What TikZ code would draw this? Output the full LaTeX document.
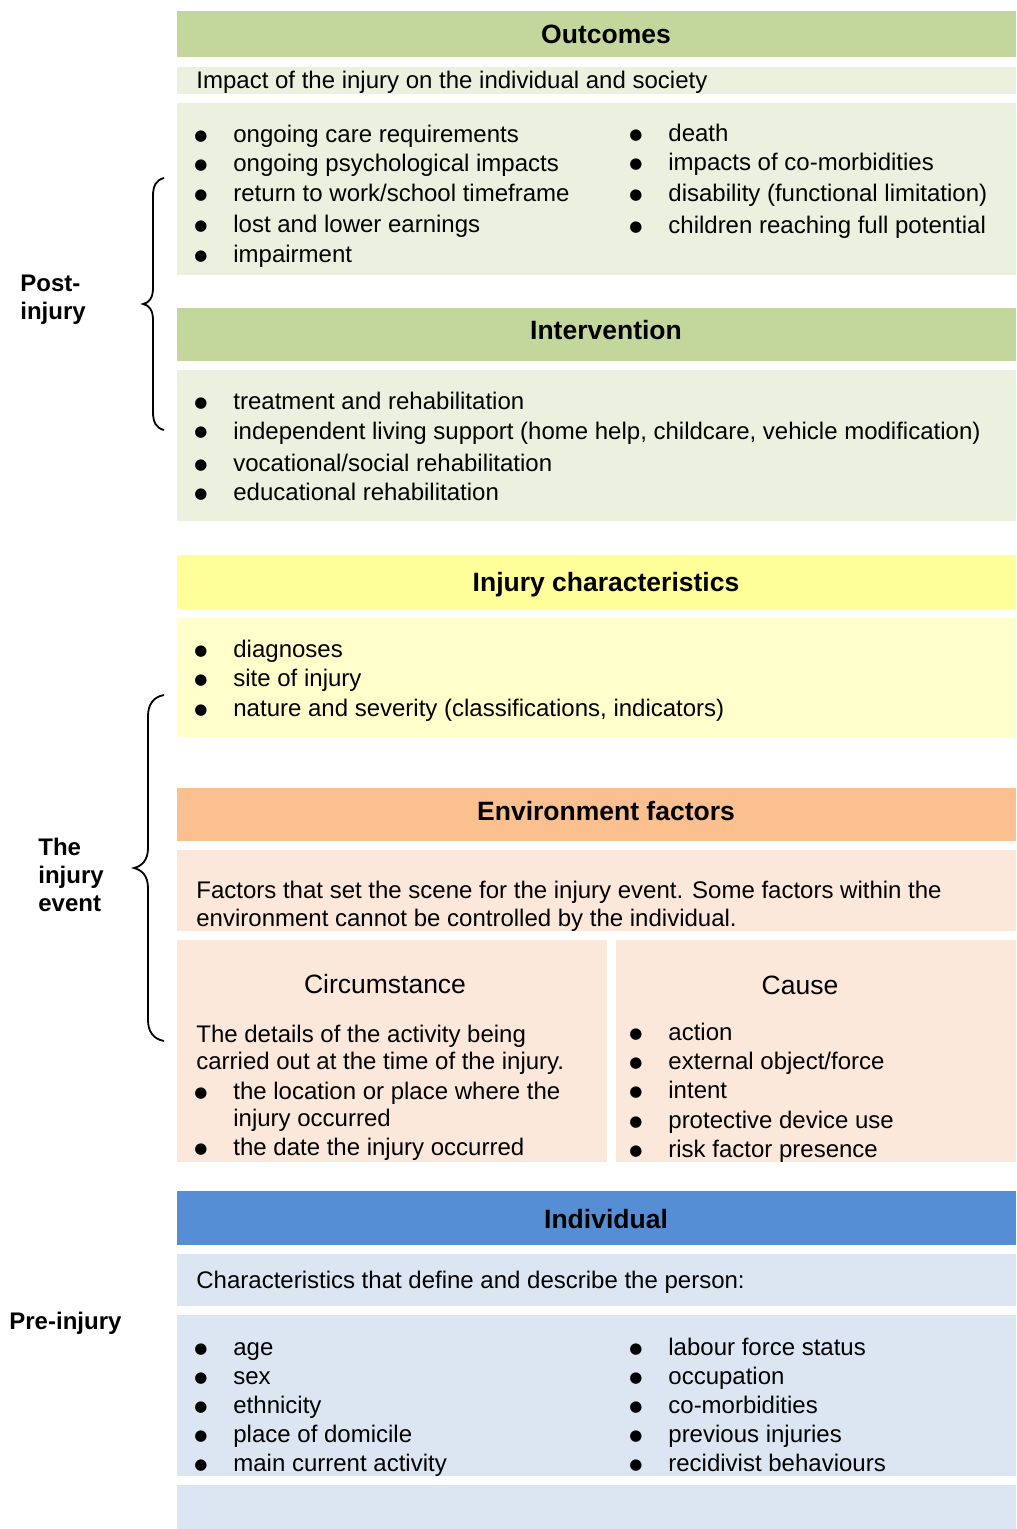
\documentclass[tikz,border=0pt]{standalone}
\usepackage{fontspec}
\setmainfont{Liberation Sans}
\newfontfamily\symfont{DejaVu Sans}
\definecolor{ghead}{HTML}{C3D69B}
\definecolor{glight}{HTML}{EBF1DE}
\definecolor{yhead}{HTML}{FFFF99}
\definecolor{ylight}{HTML}{FFFFCC}
\definecolor{ohead}{HTML}{FAC090}
\definecolor{olight}{HTML}{FCE8DA}
\definecolor{bhead}{HTML}{558ED5}
\definecolor{blight}{HTML}{DCE6F2}
\begin{document}
\begin{tikzpicture}[x=0.5pt,y=-0.5pt,
  txt/.style={inner sep=0pt, anchor=base west, font=\fontsize{12}{14}\selectfont},
  ctxt/.style={inner sep=0pt, anchor=base, font=\fontsize{13.25}{16}\selectfont},
  bul/.style={inner sep=0pt, anchor=base, font=\symfont\fontsize{7.5}{8}\selectfont},
  head/.style={inner sep=0pt, anchor=base, font=\fontsize{13.25}{16}\selectfont\bfseries},
  side/.style={inner sep=0pt, anchor=base west, font=\fontsize{12}{14}\selectfont\bfseries},
  brace/.style={draw=black, line width=0.9pt}]
\newcommand{\myitem}[4]{\node[bul] (#1b) at (#2,#3-2) {●}; \node[txt] (#1) at (#2+32,#3) {#4};}
\useasboundingbox (0,0) rectangle (1016,1529);
% boxes
\fill[ghead] (177,11) rectangle (1016,57);
\fill[glight] (177,67) rectangle (1016,94);
\fill[glight] (177,103) rectangle (1016,275);
\fill[ghead] (177,308) rectangle (1016,361);
\fill[glight] (177,370) rectangle (1016,521);
\fill[yhead] (177,555) rectangle (1016,609);
\fill[ylight] (177,618) rectangle (1016,737);
\fill[ohead] (177,788) rectangle (1016,841);
\fill[olight] (177,850) rectangle (1016,931);
\fill[olight] (177,940) rectangle (607,1162);
\fill[olight] (616,940) rectangle (1016,1162);
\fill[bhead] (177,1191) rectangle (1016,1245);
\fill[blight] (177,1254) rectangle (1016,1306);
\fill[blight] (177,1315) rectangle (1016,1476);
\fill[blight] (177,1485) rectangle (1016,1529);
% braces
\draw[brace] (164,178) .. controls (156,180) and (153,186) .. (153,196) -- (153,288) .. controls (153,298) and (149,303) .. (143,304) .. controls (149,305) and (153,310) .. (153,320) -- (153,412) .. controls (153,422) and (156,428) .. (164,430);
\draw[brace] (164,695) .. controls (153,697) and (148,705) .. (148,716) -- (148,848) .. controls (148,860) and (142,866) .. (134,868) .. controls (142,870) and (148,876) .. (148,888) -- (148,1020) .. controls (148,1031) and (153,1039) .. (164,1041);
% side labels
\node[side] (post1) at (20,292) {Post-};
\node[side] (post2) at (20,320) {injury};
\node[side] (ev1) at (38,855) {The};
\node[side] (ev2) at (38,883) {injury};
\node[side] (ev3) at (38,911) {event};
\node[side] (pre) at (9,1329) {Pre-injury};
% Outcomes
\node[head] (outh) at (606,44) {Outcomes};
\node[txt] (outd) at (196,89) {Impact of the injury on the individual and society};
\myitem{o1}{201}{143}{ongoing care requirements}
\myitem{o2}{201}{172}{ongoing psychological impacts}
\myitem{o3}{201}{202}{return to work/school timeframe}
\myitem{o4}{201}{233}{lost and lower earnings}
\myitem{o5}{201}{263}{impairment}
\myitem{o6}{636}{142}{death}
\myitem{o7}{636}{171}{impacts of co-morbidities}
\myitem{o8}{636}{202}{disability (functional limitation)}
\myitem{o9}{636}{234}{children reaching full potential}
% Intervention
\node[head] (inth) at (606,340) {Intervention};
\myitem{i1}{201}{410}{treatment and rehabilitation}
\myitem{i2}{201}{439}{independent living support (home help, childcare, vehicle modification)}
\myitem{i3}{201}{471}{vocational/social rehabilitation}
\myitem{i4}{201}{500}{educational rehabilitation}
% Injury characteristics
\node[head] (injh) at (606,591) {Injury characteristics};
\myitem{j1}{201}{657}{diagnoses}
\myitem{j2}{201}{686}{site of injury}
\myitem{j3}{201}{716}{nature and severity (classifications, indicators)}
% Environment
\node[head] (envh) at (606,820) {Environment factors};
\node[txt] (envd1) at (196,898) {Factors that set the scene for the injury event. Some factors within the};
\node[txt] (envd2) at (196,926) {environment cannot be controlled by the individual.};
\node[ctxt] (circ) at (385,993) {Circumstance};
\node[txt] (c1) at (196,1042) {The details of the activity being};
\node[txt] (c2) at (196,1069) {carried out at the time of the injury.};
\myitem{c3}{201}{1099}{the location or place where the}
\node[txt] (c3b2) at (233,1126) {injury occurred};
\myitem{c4}{201}{1155}{the date the injury occurred}
\node[ctxt] (cause) at (800,994) {Cause};
\myitem{k1}{636}{1040}{action}
\myitem{k2}{636}{1069}{external object/force}
\myitem{k3}{636}{1098}{intent}
\myitem{k4}{636}{1128}{protective device use}
\myitem{k5}{636}{1157}{risk factor presence}
% Individual
\node[head] (indh) at (606,1228) {Individual};
\node[txt] (indd) at (196,1288) {Characteristics that define and describe the person:};
\myitem{p1}{201}{1355}{age}
\myitem{p2}{201}{1384}{sex}
\myitem{p3}{201}{1413}{ethnicity}
\myitem{p4}{201}{1442}{place of domicile}
\myitem{p5}{201}{1471}{main current activity}
\myitem{p6}{636}{1355}{labour force status}
\myitem{p7}{636}{1384}{occupation}
\myitem{p8}{636}{1413}{co-morbidities}
\myitem{p9}{636}{1442}{previous injuries}
\myitem{p10}{636}{1471}{recidivist behaviours}
\end{tikzpicture}
\end{document}
